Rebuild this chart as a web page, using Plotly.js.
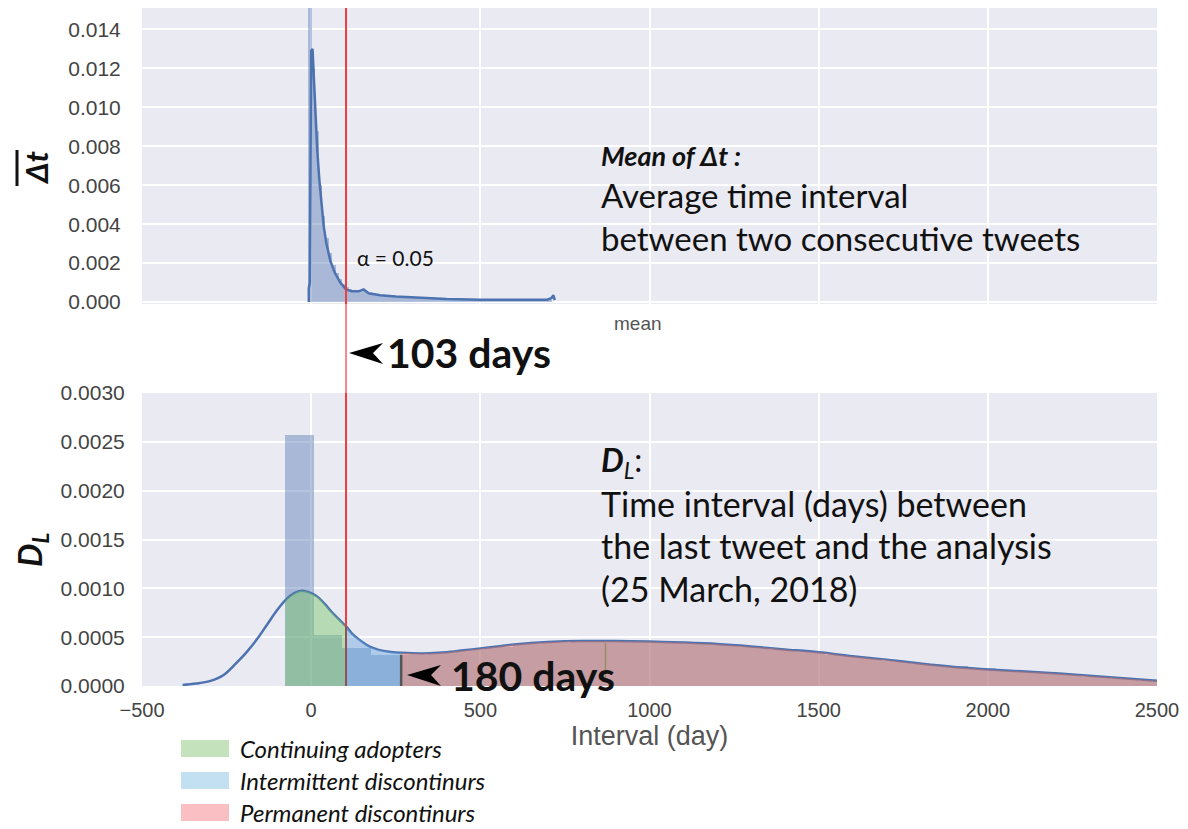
<!DOCTYPE html>
<html>
<head>
<meta charset="utf-8">
<script src="https://cdn.plot.ly/plotly-3.0.1.min.js"></script>
<style>html,body{margin:0;padding:0;background:#fff;}#chart{width:1188px;height:829px;}</style>
</head>
<body>
<div id="chart"></div>
<script>
// ---------------- DATA ----------------
// Bottom panel (D_L): histogram bin edges (days) and densities
const dlBinEdges = [-76, 8, 92, 176, 260, 344, 428, 512, 596, 680, 764, 848, 932, 1016, 1100, 1184, 1268, 1352, 1436, 1520, 1604, 1688, 1772, 1856, 1940, 2024, 2108, 2192, 2276, 2360, 2444, 2528];
const dlBinDensity = [0.00257, 0.00052, 0.00039, 0.00032, 0.00032, 0.00034, 0.00037, 0.00040, 0.00043, 0.00044, 0.00045, 0.00046, 0.00045, 0.00044, 0.00043, 0.00042, 0.00040, 0.00037, 0.00035, 0.00032, 0.00029, 0.00026, 0.00023, 0.00020, 0.00018, 0.00016, 0.00014, 0.00012, 0.00009, 0.00007, 0.00005];
// Bottom panel KDE curve
const dlKdeX = [-380, -340, -300, -260, -220, -190, -160, -130, -100, -76, -50, -27, 0, 20, 40, 60, 80, 103, 120, 140, 160, 175, 200, 230, 266, 300, 350, 400, 450, 500, 550, 600, 650, 700, 800, 900, 1000, 1100, 1200, 1300, 1400, 1500, 1600, 1700, 1800, 1900, 2000, 2100, 2200, 2300, 2400, 2500];
const dlKdeY = [0.00001, 0.000025, 0.00005, 0.00011, 0.00024, 0.00035, 0.00048, 0.00063, 0.00078, 0.00088, 0.00095, 0.000975, 0.00095, 0.00091, 0.00084, 0.00076, 0.00069, 0.00061, 0.00054, 0.00048, 0.00043, 0.00040, 0.00037, 0.00035, 0.00034, 0.000335, 0.000335, 0.000345, 0.000365, 0.000385, 0.000405, 0.000425, 0.00044, 0.00045, 0.00046, 0.00046, 0.000455, 0.000445, 0.00043, 0.000405, 0.000375, 0.000345, 0.000305, 0.00027, 0.00023, 0.000195, 0.00017, 0.00015, 0.00013, 0.000105, 0.00008, 0.000055];
// Group boundaries (days)
const continuingRange = [-76, 103];
const intermittentRange = [103, 266];
const permanentRange = [266, 2500];
const alphaCut = 103;      // alpha = 0.05 threshold
const secondCut = 266;     // boundary marked "180 days"
const groupNames = ["Continuing adopters", "Intermittent discontinurs", "Permanent discontinurs"];

// Top panel (mean of Δt): histogram bin edges and densities
const mtBinEdges = [-8, 2, 12, 22, 32, 42, 52, 62, 72, 82, 92, 102, 112, 122, 132, 142, 152, 162, 172, 182, 192, 232, 272, 312, 352, 392, 432, 472, 512, 552, 592, 632, 672, 712];
const mtBinDensity = [0.0155, 0.0120, 0.0088, 0.0060, 0.0044, 0.0033, 0.0025, 0.0019, 0.0015, 0.0012, 0.00095, 0.00075, 0.00065, 0.0006, 0.00058, 0.0006, 0.00055, 0.00045, 0.0004, 0.00037, 0.00032, 0.00027, 0.00023, 0.0002, 0.00018, 0.00016, 0.00014, 0.00012, 0.00011, 0.00011, 0.0001, 0.0001, 0.00012];
// Top panel KDE curve
const mtKdeX = [-7, -7, -4, -2, 0, 4, 8, 13, 18, 24, 30, 37, 45, 57, 70, 86, 103, 120, 140, 155, 170, 204, 250, 302, 400, 500, 600, 697, 710, 716, 720];
const mtKdeY = [0, 0.0007, 0.001, 0.008, 0.0129, 0.0130, 0.0115, 0.0095, 0.0078, 0.0063, 0.0050, 0.0039, 0.0030, 0.0021, 0.0015, 0.0010, 0.00065, 0.00055, 0.00055, 0.00065, 0.00045, 0.00035, 0.00028, 0.00023, 0.00016, 0.00012, 0.00011, 0.00012, 0.0002, 0.00035, 0.0001];

const xTicks = [-500, 0, 500, 1000, 1500, 2000, 2500];
const dlTicks = [0, 0.0005, 0.0010, 0.0015, 0.0020, 0.0025, 0.0030];
const mtTicks = [0, 0.002, 0.004, 0.006, 0.008, 0.010, 0.012, 0.014];

// ---------------- HELPERS ----------------
const W = 1188, H = 829;
const px = x => x / W;
const py = y => 1 - y / H;
function centers(edges){ const c=[]; for(let i=0;i<edges.length-1;i++) c.push((edges[i]+edges[i+1])/2); return c; }
function widths(edges){ const w=[]; for(let i=0;i<edges.length-1;i++) w.push(edges[i+1]-edges[i]); return w; }
function slice(xs, ys, r){ const ox=[], oy=[]; xs.forEach((x,i)=>{ if(x>=r[0] && x<=r[1]){ ox.push(x); oy.push(ys[i]); } }); return {x:ox, y:oy}; }
function kdeAt(x){ const i = dlKdeX.indexOf(x); return dlKdeY[i]; }

const BAR = 'rgba(76,114,176,0.42)';
const LINE = '#4c72b0';

const g = slice(dlKdeX, dlKdeY, continuingRange);
const b = slice(dlKdeX, dlKdeY, intermittentRange);
const r = slice(dlKdeX, dlKdeY, permanentRange);

const traces = [
  {type:'bar', x:centers(mtBinEdges), y:mtBinDensity, width:widths(mtBinEdges), xaxis:'x2', yaxis:'y2', marker:{color:BAR, line:{width:0}}, hoverinfo:'skip'},
  {type:'scatter', mode:'lines', x:mtKdeX, y:mtKdeY, xaxis:'x2', yaxis:'y2', line:{color:LINE, width:2.5}},
  {type:'bar', x:centers(dlBinEdges), y:dlBinDensity, width:widths(dlBinEdges), xaxis:'x', yaxis:'y', marker:{color:BAR, line:{width:0}}, hoverinfo:'skip'},
  {type:'scatter', mode:'lines', x:dlKdeX, y:dlKdeY, xaxis:'x', yaxis:'y', line:{color:LINE, width:2.5, shape:'spline'}},
  {type:'scatter', mode:'lines', name:groupNames[0], x:g.x, y:g.y, fill:'tozeroy', fillcolor:'rgba(120,200,105,0.45)', line:{width:0, shape:'spline'}, xaxis:'x', yaxis:'y'},
  {type:'scatter', mode:'lines', name:groupNames[1], x:b.x, y:b.y, fill:'tozeroy', fillcolor:'rgba(105,167,222,0.45)', line:{width:0, shape:'spline'}, xaxis:'x', yaxis:'y'},
  {type:'scatter', mode:'lines', name:groupNames[2], x:r.x, y:r.y, fill:'tozeroy', fillcolor:'rgba(238,118,90,0.42)', line:{width:0, shape:'spline'}, xaxis:'x', yaxis:'y'}
];

const yTickFont = {family:'Liberation Sans, Arial, sans-serif', size:21, color:'#444'};
const xTickFont = {family:'Liberation Sans, Arial, sans-serif', size:20, color:'#444'};
const TXT = 'Lato, "Noto Sans", sans-serif';

function arrowPath(tipX, tipY){
  const pts = [[tipX, tipY],[tipX+34, tipY-10],[tipX+24, tipY],[tipX+34, tipY+11]];
  return 'M' + pts.map(p => px(p[0]) + ',' + py(p[1])).join(' L') + ' Z';
}

const shapes = [
  // alpha = 0.05 vertical line through both panels
  {type:'line', xref:'x2', yref:'y2 domain', x0:alphaCut, x1:alphaCut, y0:0, y1:1, line:{color:'#ef3d3d', width:2}, layer:'above'},
  {type:'line', xref:'x', yref:'paper', x0:alphaCut, x1:alphaCut, y0:py(393), y1:py(304), line:{color:'#f28b8b', width:2}},
  {type:'line', xref:'x', yref:'y domain', x0:alphaCut, x1:alphaCut, y0:0, y1:1, line:{color:'#ef3d3d', width:2}, layer:'above'},
  {type:'line', xref:'x', yref:'y', x0:alphaCut, x1:alphaCut, y0:0, y1:kdeAt(alphaCut), line:{color:'rgba(110,90,90,0.75)', width:2}, layer:'above'},
  // second boundary
  {type:'line', xref:'x', yref:'y', x0:secondCut, x1:secondCut, y0:-0.00004, y1:kdeAt(secondCut)-0.00002, line:{color:'#555', width:2.5}, layer:'above'},
  // small olive marker
  {type:'line', xref:'x', yref:'y', x0:870, x1:870, y0:0.00004, y1:0.00044, line:{color:'rgba(140,140,80,0.8)', width:1.5}, layer:'above'},
  // arrowheads
  {type:'path', xref:'paper', yref:'paper', path:arrowPath(349, 353), fillcolor:'#000', line:{width:0}},
  {type:'path', xref:'paper', yref:'paper', path:arrowPath(407, 675), fillcolor:'#000', line:{width:0}},
  // overline of the Δt axis label (label is rotated)
  {type:'line', xref:'paper', yref:'paper', x0:px(17), x1:px(17), y0:py(150), y1:py(186), line:{color:'#111', width:3}},
  // legend swatches
  {type:'rect', xref:'paper', yref:'paper', x0:px(181), x1:px(229), y0:py(757), y1:py(740), fillcolor:'#c4e3bc', line:{width:0}},
  {type:'rect', xref:'paper', yref:'paper', x0:px(181), x1:px(229), y0:py(789), y1:py(772), fillcolor:'#c3e0f3', line:{width:0}},
  {type:'rect', xref:'paper', yref:'paper', x0:px(181), x1:px(229), y0:py(821), y1:py(804), fillcolor:'#f9bfc2', line:{width:0}}
];

function note(text, x, y, size, opts){
  return Object.assign({xref:'paper', yref:'paper', x:px(x), y:py(y), xanchor:'left', yanchor:'middle', showarrow:false, text:text, font:{family:TXT, size:size, color:'#111'}}, opts||{});
}

const annotations = [
  // y-axis labels (rotated)
  note('<b><i>Δt</i></b>', 36, 168, 31, {xanchor:'center', textangle:-90}),
  note('<b><i>D</i></b><b><i><sub>L</sub></i></b>', 31, 550, 33, {xanchor:'center', textangle:-90}),
  note('<b><i>Mean of Δt :</i></b>', 599, 156, 27),
  note('Average time interval', 599, 195, 33),
  note('between two consecutive tweets', 599, 238, 33),
  note('<b><i>D</i></b><i><sub>L</sub></i>:', 599, 462, 32),
  note('Time interval (days) between', 599, 503, 34),
  note('the last tweet and the analysis', 599, 545, 34),
  note('(25 March, 2018)', 599, 588, 34),
  note('α = 0.05', 355, 258, 21),
  note('<b>103 days</b>', 385, 352, 41),
  note('<b>180 days</b>', 449, 675, 41),
  note('mean', 612, 323, 19, {font:{family:'Liberation Sans, Arial, sans-serif', size:19, color:'#555'}}),
  note('<i>' + groupNames[0] + '</i>', 238, 748, 24),
  note('<i>' + groupNames[1] + '</i>', 238, 780, 24),
  note('<i>' + groupNames[2] + '</i>', 238, 812, 24)
];

const commonX = {
  range:[-500, 2500], tickvals:xTicks, domain:[px(142), px(1157)],
  gridcolor:'#ffffff', gridwidth:2, zeroline:false, showline:false,
  ticks:'outside', ticklen:6, tickcolor:'rgba(0,0,0,0)', tickfont:xTickFont, fixedrange:true
};

const layout = {
  width:W, height:H, margin:{l:0, r:0, t:0, b:0},
  paper_bgcolor:'#ffffff', plot_bgcolor:'#eaeaf2',
  showlegend:false, bargap:0, barmode:'overlay',
  font:{family:TXT},
  xaxis: Object.assign({}, commonX, {anchor:'y', tickformat:'d',
    title:{text:'Interval (day)', font:{family:'Liberation Sans, Arial, sans-serif', size:27, color:'#555'}, standoff:6}}),
  yaxis: {anchor:'x', domain:[py(686), py(393)], range:[0, 0.003], tickvals:dlTicks, tickformat:'.4f',
    gridcolor:'#ffffff', gridwidth:2, zeroline:false, showline:false,
    ticks:'outside', ticklen:12, tickcolor:'rgba(0,0,0,0)', tickfont:yTickFont},
  xaxis2: Object.assign({}, commonX, {anchor:'y2', showticklabels:false}),
  yaxis2: {anchor:'x2', domain:[py(304), py(8)], range:[-0.0001, 0.0151], tickvals:mtTicks, tickformat:'.3f',
    gridcolor:'#ffffff', gridwidth:2, zeroline:false, showline:false,
    ticks:'outside', ticklen:16, tickcolor:'rgba(0,0,0,0)', tickfont:yTickFont},
  shapes:shapes,
  annotations:annotations
};

Plotly.newPlot('chart', traces, layout, {displayModeBar:false, staticPlot:true});
</script>
</body>
</html>
